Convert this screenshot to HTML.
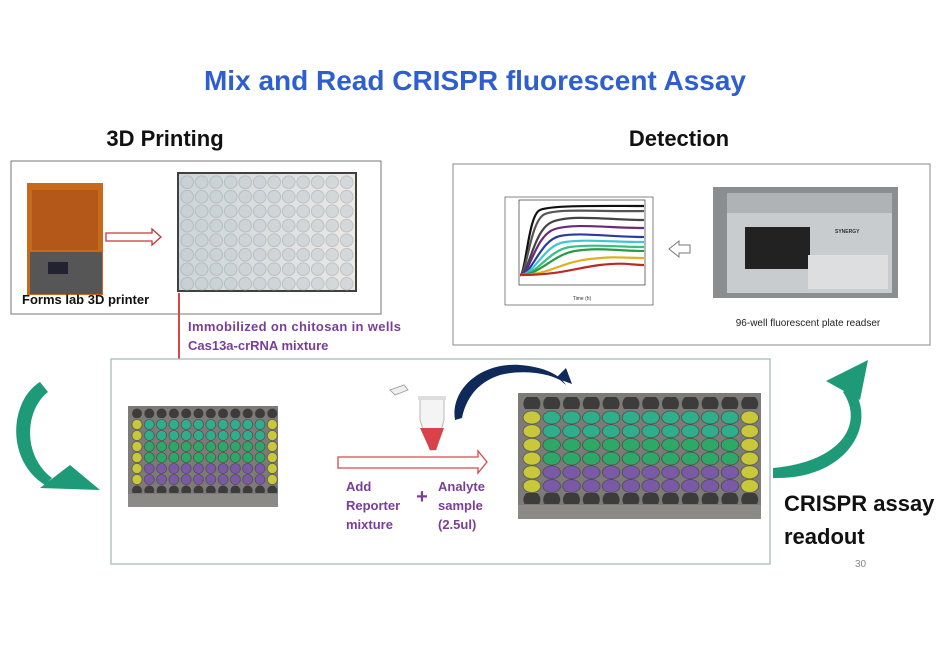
<!DOCTYPE html>
<html><head><meta charset="utf-8"><style>
html,body{margin:0;padding:0;background:#fff;}
svg{display:block;font-family:"Liberation Sans",sans-serif;}
</style></head><body>
<svg width="937" height="650" viewBox="0 0 937 650" xmlns="http://www.w3.org/2000/svg">
<defs>
<pattern id="lh" x="131" y="408" width="12.3" height="11" patternUnits="userSpaceOnUse"><circle cx="6" cy="5.5" r="5" fill="#3c3c3c"/></pattern>
<pattern id="ly" x="131" y="408" width="12.3" height="11" patternUnits="userSpaceOnUse"><circle cx="6" cy="5.5" r="5" fill="#c8c83a" stroke="#555" stroke-width="0.6"/></pattern>
<pattern id="lt" x="131" y="408" width="12.3" height="11" patternUnits="userSpaceOnUse"><circle cx="6" cy="5.5" r="5" fill="#2fae8c" stroke="#444" stroke-width="0.6"/></pattern>
<pattern id="lg" x="131" y="408" width="12.3" height="11" patternUnits="userSpaceOnUse"><circle cx="6" cy="5.5" r="5" fill="#2ea866" stroke="#444" stroke-width="0.6"/></pattern>
<pattern id="lp" x="131" y="408" width="12.3" height="11" patternUnits="userSpaceOnUse"><circle cx="6" cy="5.5" r="5" fill="#7a5aa6" stroke="#444" stroke-width="0.6"/></pattern>
<pattern id="rh" x="522" y="397" width="19.8" height="13.7" patternUnits="userSpaceOnUse"><circle cx="9.9" cy="6.8" r="8.5" fill="#3c3c3c"/></pattern>
<pattern id="ry" x="522" y="397" width="19.8" height="13.7" patternUnits="userSpaceOnUse"><ellipse cx="9.9" cy="6.8" rx="8.8" ry="6.5" fill="#c8c83a" stroke="#555" stroke-width="0.7"/></pattern>
<pattern id="rt" x="522" y="397" width="19.8" height="13.7" patternUnits="userSpaceOnUse"><ellipse cx="9.9" cy="6.8" rx="8.8" ry="6.5" fill="#2fae8c" stroke="#444" stroke-width="0.7"/></pattern>
<pattern id="rg" x="522" y="397" width="19.8" height="13.7" patternUnits="userSpaceOnUse"><ellipse cx="9.9" cy="6.8" rx="8.8" ry="6.5" fill="#2ea866" stroke="#444" stroke-width="0.7"/></pattern>
<pattern id="rp" x="522" y="397" width="19.8" height="13.7" patternUnits="userSpaceOnUse"><ellipse cx="9.9" cy="6.8" rx="8.8" ry="6.5" fill="#7a5aa6" stroke="#444" stroke-width="0.7"/></pattern>
<pattern id="wp" x="180" y="175" width="14.5" height="14.5" patternUnits="userSpaceOnUse"><circle cx="7.2" cy="7.2" r="6.3" fill="#c6ced2" stroke="#a2acb0" stroke-width="1"/></pattern>
<linearGradient id="pg" x1="0" y1="0" x2="1" y2="0"><stop offset="0" stop-color="#cdd5d8"/><stop offset="1" stop-color="#ece8e6"/></linearGradient>
</defs>

<text x="475" y="90" text-anchor="middle" font-size="28" font-weight="bold" fill="#2f5fcf">Mix and Read CRISPR fluorescent Assay</text>
<text x="165" y="146" text-anchor="middle" font-size="22" font-weight="bold" fill="#111">3D Printing</text>
<text x="679" y="146" text-anchor="middle" font-size="22" font-weight="bold" fill="#111">Detection</text>

<rect x="11" y="161" width="370" height="153" fill="#fff" stroke="#777" stroke-width="1"/>
<rect x="27" y="183" width="76" height="112" fill="#c76a1c"/>
<rect x="32" y="190" width="66" height="60" fill="#b4581a"/>
<rect x="30" y="252" width="72" height="42" fill="#565656"/>
<rect x="48" y="262" width="20" height="12" fill="#223"/>
<text x="22" y="304" font-size="13" font-weight="bold" fill="#111">Forms lab 3D printer</text>
<path d="M106 233 H152 V229 L161 237 L152 245 V241 H106 Z" fill="#fff" stroke="#c0393b" stroke-width="1.3"/>
<rect x="177" y="172" width="180" height="120" fill="#40403c"/>
<rect x="179" y="174" width="176" height="116" fill="url(#pg)"/>
<rect x="180" y="175" width="174" height="116" fill="url(#wp)" opacity="0.6"/>

<line x1="179" y1="293" x2="179" y2="388" stroke="#d9474b" stroke-width="2"/>
<path d="M175 386 L179 393 L183 386 Z" fill="#d9474b"/>
<text x="188" y="331" font-size="13" font-weight="bold" fill="#7a3e9a" textLength="213">Immobilized on chitosan in wells</text>
<text x="188" y="350" font-size="13" font-weight="bold" fill="#7a3e9a">Cas13a-crRNA mixture</text>

<rect x="453" y="164" width="477" height="181" fill="#fff" stroke="#888" stroke-width="1"/>
<rect x="505" y="197" width="148" height="108" fill="#fff" stroke="#666" stroke-width="0.8"/>
<rect x="519" y="200" width="126" height="85" fill="none" stroke="#333" stroke-width="0.7"/>
<g fill="none" stroke-width="2.2">
<path d="M520 275 C526 275 528 215 540 210 S600 206 644 206" stroke="#111"/>
<path d="M520 275 C527 275 530 220 545 214 S600 212 644 211" stroke="#555"/>
<path d="M520 275 C529 275 533 230 552 222 S610 220 644 220" stroke="#444"/>
<path d="M520 275 C530 275 535 235 555 229 S610 228 644 228" stroke="#6a2a7a"/>
<path d="M520 275 C532 275 540 240 560 236 S610 237 644 237" stroke="#2a3ca0"/>
<path d="M520 275 C535 275 543 245 565 242 S610 242 644 242" stroke="#3cc8d2"/>
<path d="M520 275 C538 275 548 250 570 247 S620 247 644 247" stroke="#38c080"/>
<path d="M520 275 C540 275 552 255 575 251 S620 251 644 251" stroke="#2a9a4a"/>
<path d="M520 275 C550 275 560 262 590 259 S620 258 644 258" stroke="#e0b020"/>
<path d="M520 275 C560 275 575 268 600 265 S630 265 644 265" stroke="#c02828"/>
</g>
<text x="582" y="300" text-anchor="middle" font-size="5" fill="#333">Time (h)</text>
<path d="M690 245 H679 V241 L669 249 L679 257 V253 H690 Z" fill="#fff" stroke="#777" stroke-width="1"/>
<rect x="713" y="187" width="185" height="111" fill="#8b8e90"/>
<rect x="727" y="193" width="165" height="100" fill="#c9ccce"/>
<rect x="727" y="193" width="165" height="20" fill="#b0b3b5"/>
<rect x="745" y="227" width="65" height="42" fill="#222"/>
<rect x="808" y="255" width="80" height="34" fill="#dcdedf"/>
<text x="835" y="233" font-size="5" font-weight="bold" fill="#333">SYNERGY</text>
<text x="808" y="326" text-anchor="middle" font-size="10" fill="#222">96-well fluorescent plate readser</text>

<rect x="111" y="359" width="659" height="205" fill="#fff" stroke="#9fb8b0" stroke-width="1.2"/>

<rect x="128" y="406" width="150" height="101" fill="#7d7b78"/>
<rect x="128" y="494" width="150" height="13" fill="#8c8a87"/>
<rect x="131" y="408" width="147" height="10" fill="url(#lh)"/>
<rect x="131" y="419" width="147" height="22" fill="url(#lt)"/>
<rect x="131" y="441" width="147" height="22" fill="url(#lg)"/>
<rect x="131" y="463" width="147" height="22" fill="url(#lp)"/>
<rect x="131" y="419" width="12.3" height="66" fill="url(#ly)"/>
<rect x="266.3" y="419" width="12.3" height="66" fill="url(#ly)"/>
<rect x="131" y="485" width="147" height="8" fill="url(#lh)"/>

<rect x="518" y="393" width="243" height="126" fill="#7d7b78"/>
<rect x="518" y="505" width="243" height="14" fill="#8c8a87"/>
<rect x="522" y="397" width="238" height="12" fill="url(#rh)"/>
<rect x="522" y="410.7" width="238" height="27.4" fill="url(#rt)"/>
<rect x="522" y="438.1" width="238" height="27.4" fill="url(#rg)"/>
<rect x="522" y="465.5" width="238" height="27.4" fill="url(#rp)"/>
<rect x="522" y="410.7" width="19.8" height="82.2" fill="url(#ry)"/>
<rect x="739.8" y="410.7" width="19.8" height="82.2" fill="url(#ry)"/>
<rect x="522" y="493" width="238" height="11" fill="url(#rh)"/>

<path d="M338 457 H478 V451 L487 462 L478 473 V468 H338 Z" fill="#fff" stroke="#d9474b" stroke-width="1.3"/>
<text font-size="13" font-weight="bold" fill="#7a3e9a"><tspan x="346" y="491">Add</tspan><tspan x="346" y="510">Reporter</tspan><tspan x="346" y="529">mixture</tspan></text>
<text x="422" y="503" text-anchor="middle" font-size="20" font-weight="bold" fill="#7a3e9a">+</text>
<text font-size="13" font-weight="bold" fill="#7a3e9a"><tspan x="438" y="491">Analyte</tspan><tspan x="438" y="510">sample</tspan><tspan x="438" y="529">(2.5ul)</tspan></text>

<path d="M390 390 L404 385 L408 390 L395 395 Z" fill="#eee" stroke="#999" stroke-width="0.8"/>
<path d="M420 398 H444 V420 L436 450 H430 L420 420 Z" fill="#f4f4f4" stroke="#aaa" stroke-width="0.8"/>
<path d="M420 428 H444 L436 450 H430 Z" fill="#d8434a"/>
<rect x="418" y="396" width="28" height="4" fill="#ddd"/>

<path d="M455 420 C450 390 480 362 520 365 C545 367 560 375 566 385 L560 380 C545 372 520 370 500 375 C478 382 466 398 462 418 Z" fill="#0f2a5a"/>
<path d="M556 378 L572 384 L566 368 Z" fill="#0f2a5a"/>

<path d="M40 382 C10 400 5 460 45 485 L52 478 C22 455 25 410 48 392 Z" fill="#1e9a78"/>
<path d="M40 488 L100 490 L70 465 Z" fill="#1e9a78"/>
<path d="M773 478 C850 480 880 420 850 385 L843 392 C865 425 840 462 773 468 Z" fill="#1e9a78"/>
<path d="M826 381 L868 360 L860 400 Z" fill="#1e9a78"/>

<text x="784" y="511" font-size="22" font-weight="bold" fill="#111">CRISPR assay</text>
<text x="784" y="544" font-size="22" font-weight="bold" fill="#111">readout</text>
<text x="855" y="567" font-size="10" fill="#888">30</text>
</svg>
</body></html>
